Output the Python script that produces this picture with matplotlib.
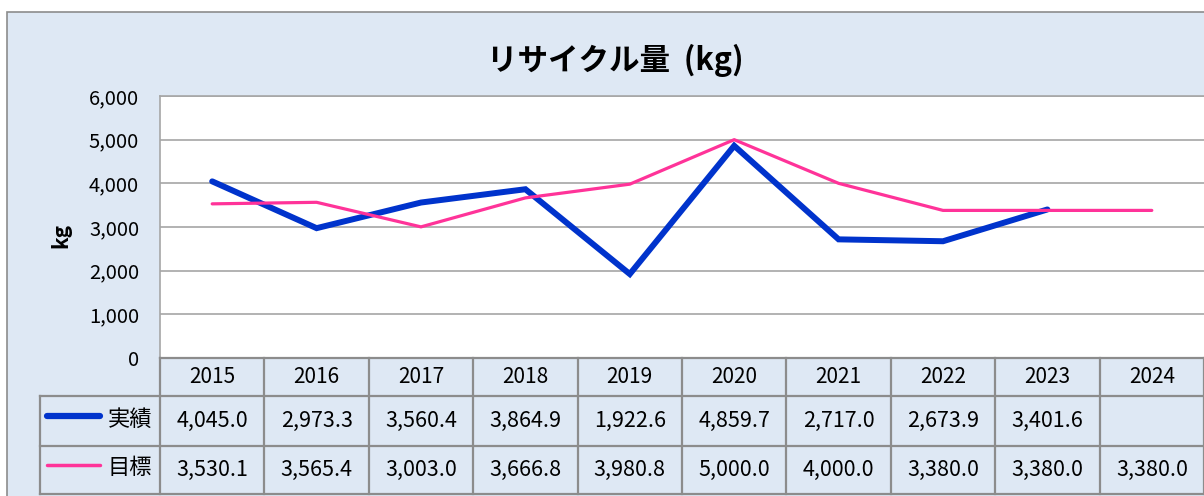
import matplotlib
matplotlib.use("Agg")
import matplotlib.pyplot as plt
from matplotlib.patches import Rectangle
from matplotlib.lines import Line2D

plt.rcParams['font.family'] = ['Noto Sans CJK JP', 'DejaVu Sans']

years = ["2015", "2016", "2017", "2018", "2019", "2020", "2021", "2022", "2023", "2024"]
actual = [4045.0, 2973.3, 3560.4, 3864.9, 1922.6, 4859.7, 2717.0, 2673.9, 3401.6]
target = [3530.1, 3565.4, 3003.0, 3666.8, 3980.8, 5000.0, 4000.0, 3380.0, 3380.0, 3380.0]
series_names = ["実績", "目標"]
yticks = [0, 1000, 2000, 3000, 4000, 5000, 6000]

BG = "#DEE8F4"
GRID = "#A6A6A6"
EDGE = "#8C8C8C"
BLUE = "#0033CC"
PINK = "#FF3399"

W, H = 1204, 496
fig = plt.figure(figsize=(W / 100, H / 100), dpi=100)
fig.patch.set_facecolor("white")


def fx(px):
    return px / W


def fy(py):
    return 1 - py / H


# background axes in pixel coords (top-left origin)
bg = fig.add_axes([0, 0, 1, 1], zorder=-5)
bg.set_xlim(0, W)
bg.set_ylim(H, 0)
bg.axis("off")
bg.add_patch(Rectangle((7, 12), 1300, 600, facecolor=BG, edgecolor=EDGE,
                       linewidth=1.2))
bg.text(615, 60, "リサイクル量  (kg)", ha="center", va="center",
        fontsize=22, fontweight="bold")
bg.text(61, 235, "kg", ha="center", va="center", rotation=90,
        fontsize=15, fontweight="bold")

# plot area
left, right, top, bottom = 160, 1204, 96, 358
ax = fig.add_axes([fx(left), fy(bottom), fx(right - left), fy(top) - fy(bottom)])
ax.set_facecolor("white")
n = len(years)
ax.set_xlim(-0.5, n - 0.5)
ax.set_ylim(0, 6000)
ax.set_yticks(yticks)
ax.set_yticklabels([f"{v:,}" for v in yticks], fontsize=14.5)
ax.tick_params(axis="y", length=0, pad=15)
ax.set_xticks([])
ax.yaxis.grid(True, color=GRID, linewidth=1.2)
ax.set_axisbelow(True)
for s in ["right", "bottom"]:
    ax.spines[s].set_visible(False)
ax.spines["left"].set_color(GRID)
ax.spines["top"].set_color(GRID)
ax.spines["left"].set_linewidth(1.2)
ax.spines["top"].set_linewidth(1.2)

ax.plot(range(len(actual)), actual, color=BLUE, linewidth=4.3,
        solid_capstyle="round", solid_joinstyle="miter", zorder=3)
ax.plot(range(len(target)), target, color=PINK, linewidth=2.3,
        solid_capstyle="round", zorder=4)

# data table
col_w = (right - left) / n
rows = [358, 396, 446, 494]
tab = fig.add_axes([0, 0, 1, 1], facecolor="none", zorder=5)
tab.set_xlim(0, W)
tab.set_ylim(H, 0)
tab.axis("off")
lw = 1.6
tab.plot([left, W + 5], [rows[0]] * 2, color=EDGE, lw=lw)
for r in rows[1:]:
    tab.plot([40, W + 5], [r, r], color=EDGE, lw=lw)
for i in range(n + 1):
    x = left + i * col_w
    tab.plot([x, x], [rows[0], rows[3]], color=EDGE, lw=lw)
tab.plot([40, 40], [rows[1], rows[3]], color=EDGE, lw=lw)

for i, y in enumerate(years):
    tab.text(left + (i + 0.5) * col_w, (rows[0] + rows[1]) / 2, y,
             ha="center", va="center", fontsize=15)

for r, (name, vals, color, lwid) in enumerate([(series_names[0], actual, BLUE, 4.5),
                                               (series_names[1], target, PINK, 2.5)]):
    yc = (rows[r + 1] + rows[r + 2]) / 2
    tab.add_line(Line2D([47, 100], [yc - 5, yc - 5], color=color, lw=lwid,
                        solid_capstyle="round"))
    tab.text(152, yc - 2, name, ha="right", va="center", fontsize=16)
    for i, v in enumerate(vals):
        tab.text(left + (i + 0.5) * col_w, yc, f"{v:,.1f}",
                 ha="center", va="center", fontsize=15.5)

fig.savefig("out.png", dpi=100)
